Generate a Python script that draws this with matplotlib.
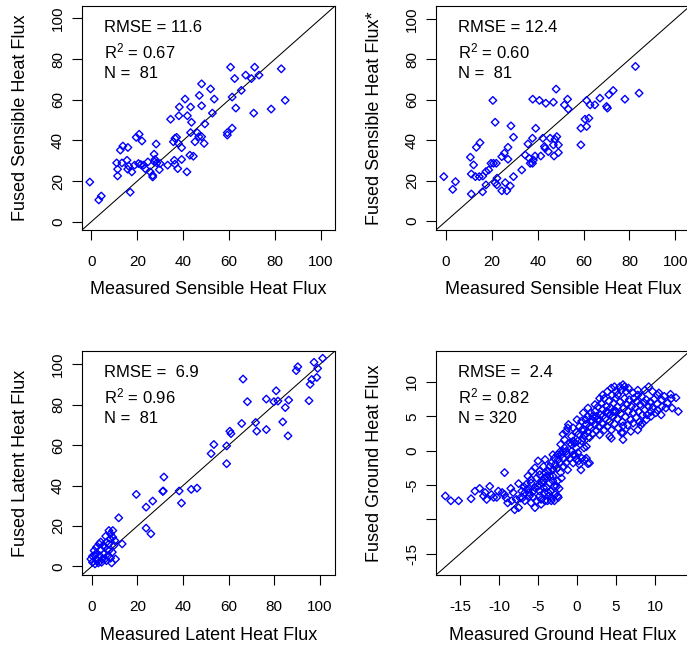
import matplotlib
matplotlib.use("Agg")
import matplotlib.pyplot as plt

plt.rcParams['font.family'] = ['Liberation Sans', 'DejaVu Sans']
plt.rcParams['mathtext.fontset'] = 'custom'
plt.rcParams['mathtext.rm'] = 'Liberation Sans'

# ---------------- data (measured, fused) ----------------
sensible_pts = [(-0.7, 19.5), (3.2, 10.7), (4.3, 12.6), (16.9, 14.5), (11.4, 22.5), (11.4, 25.8),
                (11.0, 28.9), (13.3, 28.9), (15.5, 30.2), (12.6, 35.2), (13.7, 37.2), (15.9, 36.5),
                (15.8, 25.8), (17.6, 24.5), (16.2, 27.4), (18.8, 27.8), (20.5, 28.6), (21.5, 28.1),
                (19.5, 41.5), (20.8, 43.0), (22.0, 39.7), (22.7, 27.8), (23.4, 26.1), (24.6, 29.4),
                (25.6, 24.5), (26.7, 22.8), (26.7, 22.0), (27.3, 33.2), (28.2, 38.2), (27.7, 30.6),
                (28.5, 28.9), (29.6, 25.6), (29.9, 28.6), (27.5, 29.4), (33.2, 27.8), (36.1, 30.2),
                (36.4, 28.3), (37.6, 26.1), (39.3, 30.6), (35.7, 39.3), (37.1, 41.5), (36.4, 41.0),
                (37.9, 38.5), (39.3, 36.4), (41.6, 24.5), (42.9, 32.7), (44.4, 32.2), (43.2, 43.8),
                (45.1, 39.3), (46.8, 41.8), (48.0, 41.8), (49.1, 38.5), (46.1, 43.8), (34.5, 50.4),
                (38.1, 52.1), (38.3, 56.4), (40.8, 60.3), (41.8, 52.1), (43.2, 56.4), (43.6, 48.9),
                (47.0, 62.1), (48.0, 67.8), (48.0, 57.0), (49.4, 48.1), (51.9, 65.3), (53.5, 60.3),
                (52.7, 53.4), (59.2, 43.8), (59.2, 42.6), (61.3, 46.0), (61.3, 61.3), (60.6, 76.0),
                (62.4, 70.4), (62.9, 55.9), (65.3, 64.6), (67.2, 72.1), (69.7, 70.4), (71.1, 76.0),
                (73.0, 72.1), (70.7, 53.4), (78.3, 55.4), (82.7, 75.2), (84.4, 59.7)]

sensible_star_pts = [(-1.0, 22.0), (2.9, 15.7), (4.1, 19.5), (10.6, 31.6), (12.0, 27.8), (11.0, 23.3),
                     (12.8, 22.0), (14.5, 22.0), (16.0, 22.3), (17.4, 24.5), (18.6, 25.3), (19.6, 28.6),
                     (20.7, 28.6), (21.9, 28.6), (13.2, 36.5), (14.8, 38.8), (20.4, 59.7), (21.4, 48.9),
                     (11.0, 13.4), (15.9, 14.5), (17.4, 17.9), (21.4, 19.0), (22.2, 21.2), (22.2, 17.9),
                     (24.3, 15.0), (26.5, 15.0), (28.0, 17.4), (29.4, 22.0), (24.3, 31.9), (25.4, 33.6),
                     (27.0, 36.5), (27.0, 30.6), (28.3, 47.1), (29.4, 41.5), (33.0, 25.3), (34.5, 32.7),
                     (35.7, 38.2), (36.2, 31.1), (36.7, 28.6), (37.7, 28.6), (38.1, 30.2), (38.8, 32.2),
                     (37.7, 41.0), (39.1, 45.9), (41.3, 32.2), (42.2, 41.0), (42.9, 36.9), (43.2, 36.0),
                     (44.6, 34.4), (45.4, 41.0), (46.8, 37.7), (47.5, 40.5), (48.3, 41.8), (49.0, 37.7),
                     (47.1, 32.2), (49.0, 33.9), (37.8, 60.3), (40.7, 59.7), (43.5, 58.3), (46.8, 58.8),
                     (48.0, 65.3), (51.6, 57.5), (53.0, 60.3), (53.3, 55.4), (58.8, 37.7), (58.8, 46.0),
                     (60.6, 50.4), (61.3, 46.8), (62.3, 50.9), (61.3, 59.7), (62.8, 57.5), (64.9, 57.5),
                     (67.1, 60.8), (70.0, 56.7), (70.4, 55.9), (71.0, 62.5), (72.9, 64.6), (78.0, 60.3),
                     (82.6, 76.5), (84.2, 63.3), (25.8, 19.0)]

latent_pts = [(-0.4, 3.6), (0.3, 5.0), (1.0, 7.8), (1.7, 6.1), (2.5, 2.8), (3.2, 11.1), (3.5, 5.3),
              (3.9, 8.3), (4.3, 2.0), (4.6, 3.6), (5.3, 6.1), (5.8, 9.4), (6.1, 14.9), (6.4, 2.8),
              (6.8, 8.3), (7.2, 5.3), (7.5, 11.1), (8.0, 13.6), (8.2, 16.1), (8.7, 1.7), (9.0, 7.0),
              (9.2, 17.7), (9.7, 10.3), (10.1, 12.7), (10.4, 3.6), (7.5, 7.8), (6.4, 11.9), (5.0, 10.3),
              (2.0, 9.4), (1.4, 1.2), (0.3, 2.0), (2.9, 1.7), (5.8, 3.6), (8.2, 4.0), (13.3, 11.1),
              (11.8, 24.0), (19.5, 35.6), (23.8, 29.3), (23.8, 18.9), (25.9, 16.1), (26.7, 32.3),
              (31.1, 37.1), (31.3, 37.3), (31.6, 44.2), (38.3, 37.3), (39.3, 31.3), (43.6, 38.1),
              (46.1, 38.7), (52.3, 55.8), (53.5, 60.3), (59.1, 59.6), (59.1, 50.8), (60.5, 66.9),
              (61.0, 65.7), (65.7, 70.7), (66.3, 92.7), (68.2, 81.5), (71.8, 71.2), (72.3, 66.9),
              (76.5, 82.8), (76.5, 67.7), (79.8, 81.5), (80.8, 86.9), (81.6, 81.8), (83.7, 71.5),
              (84.8, 78.6), (86.0, 64.6), (86.3, 82.3), (89.6, 96.9), (90.3, 98.8), (95.2, 82.0),
              (95.7, 90.1), (96.4, 92.5), (97.4, 101.0), (98.6, 93.5), (99.0, 98.0), (101.2, 103.0),
              (7.5, 17.7), (9.2, 14.4), (3.9, 12.0), (1.4, 5.3)]

ground_pts = [(-16.9, -6.6), (-16.2, -7.3), (-15.2, -7.3), (-13.6, -7.0), (-12.5, -5.5), (-11.8, -6.1),
              (-11.6, -7.1), (-11.2, -5.2), (-10.7, -6.8), (-10.3, -6.8), (-9.3, -3.2), (-9.3, -6.4),
              (-8.9, -7.6), (-8.5, -5.5), (-8.2, -6.1), (-8.0, -8.6), (-7.5, -8.3), (-7.5, -4.8),
              (-7.3, -6.9), (-7.1, -5.9), (-6.8, -5.3), (-6.7, -7.3), (-6.5, -4.9), (-6.2, -6.1),
              (-5.9, -7.6), (-5.9, -4.2), (-5.8, -3.0), (-5.6, -6.8), (-5.4, -5.4), (-5.2, -7.3),
              (-5.0, -1.5), (-4.8, -3.5), (-4.8, -5.9), (-4.6, -7.1), (-4.5, -4.7), (-4.3, -2.3),
              (-4.2, -6.1), (-4.1, -4.0), (-3.9, -5.4), (-3.8, -7.3), (-3.7, -3.0), (-3.6, -6.6),
              (-3.5, -4.7), (-3.4, -5.9), (-3.3, -1.8), (-3.2, -6.9), (-3.1, -3.7), (-2.9, -5.2),
              (-2.9, -1.1), (-2.8, -6.4), (-2.6, -2.6), (-2.5, -4.4), (-2.4, -6.8), (-2.3, -5.5),
              (-2.2, -0.2), (-2.2, -1.8), (-2.1, -3.2), (-2.0, -4.0), (-2.5, -0.6), (-1.8, -1.1),
              (-1.7, -2.3), (-1.6, 0.4), (-1.4, -1.8), (-1.2, -2.8), (-1.2, -0.6), (-1.1, 3.8),
              (-0.9, 1.1), (-0.7, -0.1), (-0.5, -1.8), (-0.3, -0.6), (-0.1, 0.4), (0.2, -1.5),
              (0.5, -2.8), (0.6, -1.1), (1.0, -1.3), (1.2, 0.6), (1.4, -1.9), (1.6, -1.8),
              (-1.8, 2.4), (-1.6, 1.6), (-1.4, 2.8), (-1.2, 3.3), (-0.7, 2.1), (-0.5, 1.4),
              (-0.1, 2.7), (0.1, 1.4), (0.2, 2.4), (0.3, 3.5), (0.6, 4.3), (0.8, 1.8), (0.9, 3.0),
              (1.0, 2.3), (1.2, 3.8), (1.4, 6.2), (1.4, 2.7), (1.6, 1.9), (1.7, 4.3), (1.8, 3.3),
              (2.0, 5.0), (2.0, 2.4), (2.3, 3.8), (2.3, 5.7), (2.5, 2.9), (2.6, 4.5), (2.7, 6.4),
              (2.8, 3.5), (2.9, 2.3), (3.0, 5.2), (3.1, 6.9), (3.2, 4.0), (3.3, 6.0), (3.5, 3.0),
              (3.5, 7.6), (3.6, 4.7), (3.8, 6.4), (3.9, 3.5), (4.0, 5.5), (4.1, 7.2), (4.2, 4.2),
              (4.3, 6.2), (4.4, 3.0), (4.5, 8.1), (4.6, 4.9), (4.7, 6.9), (4.8, 3.9), (4.9, 5.8),
              (5.0, 8.6), (5.0, 7.6), (5.2, 4.6), (5.2, 6.4), (5.3, 3.3), (5.5, 7.1), (5.6, 5.4),
              (5.7, 8.8), (5.8, 4.2), (5.9, 9.6), (5.9, 2.6), (5.9, 1.6), (6.0, 6.2), (6.1, 7.6),
              (6.2, 4.9), (6.3, 8.6), (6.4, 6.7), (6.5, 3.7), (6.6, 5.7), (6.7, 7.4), (6.9, 4.5),
              (7.0, 6.4), (7.2, 5.5), (7.3, 7.6), (7.5, 6.2), (7.6, 4.8), (7.7, 7.1), (7.8, 8.8),
              (7.9, 5.7), (8.0, 4.2), (8.1, 6.7), (8.2, 3.7), (8.3, 7.9), (8.4, 5.2), (8.6, 7.0),
              (8.7, 5.9), (8.9, 7.4), (9.0, 5.2), (9.2, 9.3), (9.2, 6.4), (9.4, 7.1), (9.5, 5.7),
              (9.7, 6.2), (9.9, 7.5), (10.1, 5.5), (10.3, 6.8), (10.5, 8.4), (10.8, 5.2), (10.9, 7.4),
              (11.2, 7.9), (11.4, 6.2), (12.0, 8.2), (12.1, 7.6), (12.7, 7.7), (13.0, 5.7),
              (4.2, 2.1), (4.4, 1.8), (1.2, -1.1), (0.9, 0.4), (0.6, 1.4), (0.1, -0.3), (-0.7, 0.9),
              (-1.8, -0.1), (-2.1, 0.9), (-2.4, -1.3), (-2.8, -2.0), (-3.1, -2.8), (-3.5, -2.3),
              (-3.9, -3.7), (-4.4, -4.4), (-4.8, -4.9), (-5.2, -4.0), (-5.6, -5.9), (-6.1, -6.6),
              (-6.4, -5.6), (-6.7, -6.1), (-7.0, -6.9), (-7.8, -7.1), (-8.4, -7.3), (-9.1, -6.9),
              (-9.6, -6.1), (-10.1, -5.9), (-11.0, -6.4), (-12.0, -6.6), (-13.1, -5.9),
              (-4.8, -6.6), (-4.1, -7.3), (-4.6, -7.8), (-5.4, -8.3), (-3.3, -7.3), (-2.5, -6.6),
              (-2.9, -7.3), (-3.7, -6.1), (-4.3, -5.4), (-5.0, -5.2), (-5.9, -4.7), (-6.3, -3.7),
              (-5.4, -2.5), (-4.8, -3.0), (-4.1, -3.2), (-3.5, -3.7), (-3.1, -4.4), (-2.6, -5.2),
              (-4.1, -1.3), (-3.1, -0.6), (-2.0, -0.6), (-1.4, -0.1), (-0.5, -0.6), (-0.9, -1.1),
              (-0.1, -1.3), (0.3, -2.0), (-0.3, 1.1), (0.6, 3.0), (0.0, 4.5), (-0.5, 3.3),
              (1.4, 5.0), (1.8, 5.5), (2.3, 6.7), (2.9, 7.6), (3.3, 8.1), (3.9, 8.6), (4.4, 9.1),
              (4.8, 9.3), (5.2, 8.1), (5.7, 2.6), (5.9, 3.6), (7.2, 4.0), (8.4, 4.0), (8.9, 4.5),
              (9.5, 5.0), (10.3, 5.9), (10.9, 6.4), (11.6, 6.9), (12.2, 6.2), (10.3, 8.1),
              (9.7, 8.6), (8.7, 8.8), (7.8, 8.1), (7.2, 8.4), (6.6, 9.1), (6.1, 9.3), (5.5, 9.3),
              (6.9, 2.8), (7.8, 3.0), (5.0, 5.7), (4.6, 5.7), (4.2, 5.2), (3.8, 5.7), (3.3, 5.0),
              (2.9, 4.5), (2.5, 5.0), (2.0, 4.3), (1.6, 3.5), (1.1, 4.5), (0.8, 5.5)]

stats_text = [["RMSE = 11.6", r"$\mathregular{R^2}$ = 0.67", "N =  81"],
              ["RMSE = 12.4", r"$\mathregular{R^2}$ = 0.60", "N =  81"],
              ["RMSE =  6.9", r"$\mathregular{R^2}$ = 0.96", "N =  81"],
              ["RMSE =  2.4", r"$\mathregular{R^2}$ = 0.82", "N = 320"]]

x_titles = ["Measured Sensible Heat Flux", "Measured Sensible Heat Flux",
            "Measured Latent Heat Flux", "Measured Ground Heat Flux"]
y_titles = ["Fused Sensible Heat Flux", "Fused Sensible Heat Flux*",
            "Fused Latent Heat Flux", "Fused Ground Heat Flux"]

flux_ticks = [0, 20, 40, 60, 80, 100]
ground_ticks = [-15, -10, -5, 0, 5, 10]
ground_xlabels = ["-15", "-10", "-5", "0", "5", "10"]
ground_ylabels = ["-15", "", "-5", "0", "5", "10"]

# ---------------- figure ----------------
W, H = 687, 647
fig = plt.figure(figsize=(W / 100, H / 100), dpi=100)

def px_axes(left, top, w, h):
    return fig.add_axes([left / W, 1 - (top + h) / H, w / W, h / H])

panels = [
    dict(pos=(82, 6, 253, 224), pts=sensible_pts, lim=(-4.1, 106.1)),
    dict(pos=(436, 6, 254, 224), pts=sensible_star_pts, lim=(-4.4, 106.4)),
    dict(pos=(82, 351, 253, 224), pts=latent_pts, lim=(-4.3, 106.6)),
    dict(pos=(436, 351, 254, 224), pts=ground_pts, lim=(-18.1, 14.5)),
]

for i, p in enumerate(panels):
    ax = px_axes(*p["pos"])
    xs = [q[0] for q in p["pts"]]
    ys = [q[1] for q in p["pts"]]
    ax.scatter(xs, ys, marker='D', s=15, facecolors='none', edgecolors='#0000FF',
               linewidths=1.0, zorder=3)
    ax.axline((0, 0), slope=1, color='black', lw=0.75, zorder=2)
    ax.set_xlim(*p["lim"])
    ax.set_ylim(*p["lim"])
    if i < 3:
        ax.set_xticks(flux_ticks, [str(t) for t in flux_ticks])
        ax.set_yticks(flux_ticks, [str(t) for t in flux_ticks])
    else:
        ax.set_xticks(ground_ticks, ground_xlabels)
        ax.set_yticks(ground_ticks, ground_ylabels)
    for s in ax.spines.values():
        s.set_linewidth(0.8)
        s.set_color('black')
    ax.tick_params(direction='out', length=7.2, width=0.8, labelsize=11, colors='black')
    ax.tick_params(axis='x', pad=11)
    ax.tick_params(axis='y', pad=5)
    for lbl in ax.get_yticklabels():
        lbl.set_rotation(90)
        lbl.set_va('center')
    ax.set_xlabel(x_titles[i], fontsize=13, va='center')
    ax.xaxis.set_label_coords(0.5, -60 / 224)
    ax.set_ylabel(y_titles[i], fontsize=13, va='center')
    ax.yaxis.set_label_coords(-61 / 253, 0.5)
    for j, t in enumerate(stats_text[i]):
        ax.text(0.085, [0.903, 0.797, 0.70][j], t, transform=ax.transAxes,
                fontsize=12, ha='left', va='center')

fig.savefig("out.png", dpi=100)
